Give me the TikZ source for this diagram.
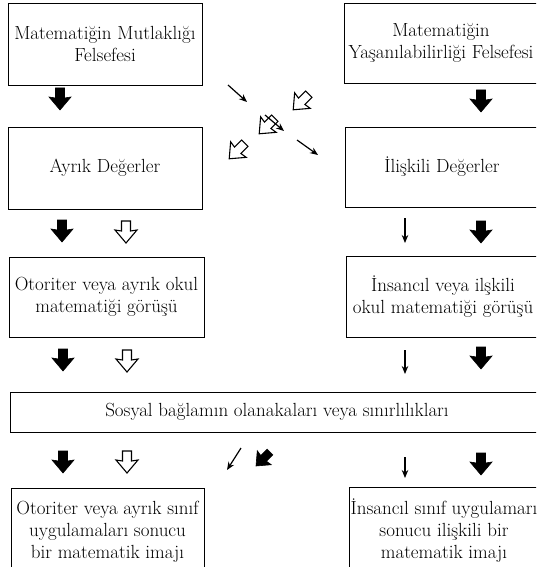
\documentclass[tikz,border=0pt]{standalone}
\usepackage{fontspec}
\usetikzlibrary{arrows.meta}
\begin{document}
\begin{tikzpicture}[x=1pt,y=-1pt,
  box/.style={draw, line width=0.9pt, rectangle, align=center, inner sep=0pt,
    font=\fontsize{19}{22}\selectfont},
  fatarr/.pic={\path[pic actions] (-4.5,-11) -- (4.5,-11) -- (4.5,-1) -- (11,-2) -- (0,11) -- (-11,-2) -- (-4.5,-1) -- cycle;},
  blk/.style={draw, fill=black, line width=0.6pt, line join=miter},
  wht/.style={draw, fill=white, line width=1.1pt, line join=miter},
  thin/.style={-{Stealth[length=8pt,width=6.5pt]}, line width=1.2pt}
]
\useasboundingbox (0,0) rectangle (536,567);
\fill[white] (0,0) rectangle (536,567);
\clip (0,0) rectangle (536,567);

% boxes
\node[box, minimum width=194pt, minimum height=82pt] (A) at (105,44) {Matematiğin Mutlaklığı\\Felsefesi};
\node[box, minimum width=194pt, minimum height=80pt] (B) at (441,43) {Matematiğin\\Yaşanılabilirliği Felsefesi};
\node[box, minimum width=194pt, minimum height=82pt] (C) at (105,168) {Ayrık Değerler};
\node[box, minimum width=194pt, minimum height=80pt] (D) at (442,167) {İlişkili Değerler};
\node[box, minimum width=195pt, minimum height=80pt] (E) at (106.5,297) {Otoriter veya ayrık okul\\matematiği görüşü};
\node[box, minimum width=194pt, minimum height=81pt] (F) at (443,296.5) {İnsancıl veya ilşkili\\okul matematiği görüşü};
\node[box, minimum width=534pt, minimum height=40pt] (G) at (277,412) {Sosyal bağlamın olanakaları veya sınırlılıkları};
\node[box, minimum width=193pt, minimum height=88pt] (H) at (107.5,532) {Otoriter veya ayrık sınıf\\uygulamaları sonucu\\bir matematik imajı};
\node[box, minimum width=190pt, minimum height=88pt] (I) at (444,531) {İnsancıl sınıf uygulamarı\\sonucu ilişkili bir\\matematik imajı};

% row 1 fat arrows
\pic[blk] at (60,99) {fatarr};
\pic[blk] at (481,101) {fatarr};

% middle crossing arrows
\coordinate (m1s) at (228,85); \coordinate (m1e) at (247,102);
\draw[thin] (m1s) -- (m1e);
\pic[wht, rotate=-45] at (301,102) {fatarr};
\pic[wht, rotate=-45] at (267,126) {fatarr};
\coordinate (m2s) at (265,115); \coordinate (m2e) at (284,131);
\draw[thin] (m2s) -- (m2e);
\pic[wht, rotate=-45] at (237,151) {fatarr};
\coordinate (m3s) at (297,140); \coordinate (m3e) at (318,155);
\draw[thin] (m3s) -- (m3e);

% row 2
\pic[blk] at (62,231) {fatarr};
\pic[wht] at (126,232) {fatarr};
\coordinate (r2s) at (405,218); \coordinate (r2e) at (405,243);
\draw[thin] (r2s) -- (r2e);
\pic[blk] at (481,232) {fatarr};

% row 3
\pic[blk] at (63,360) {fatarr};
\pic[wht] at (127,361) {fatarr};
\coordinate (r3s) at (405,350); \coordinate (r3e) at (405,374);
\draw[thin] (r3s) -- (r3e);
\pic[blk] at (481,358) {fatarr};

% row 4
\pic[blk] at (63,462) {fatarr};
\pic[wht] at (127,462) {fatarr};
\coordinate (r4as) at (241,448); \coordinate (r4ae) at (227,470);
\draw[thin] (r4as) -- (r4ae);
\pic[blk, rotate=-45, scale=0.9] at (263,459) {fatarr};
\coordinate (r4bs) at (405,457); \coordinate (r4be) at (405,478);
\draw[thin] (r4bs) -- (r4be);
\pic[blk] at (481,464) {fatarr};
\end{tikzpicture}
\end{document}
